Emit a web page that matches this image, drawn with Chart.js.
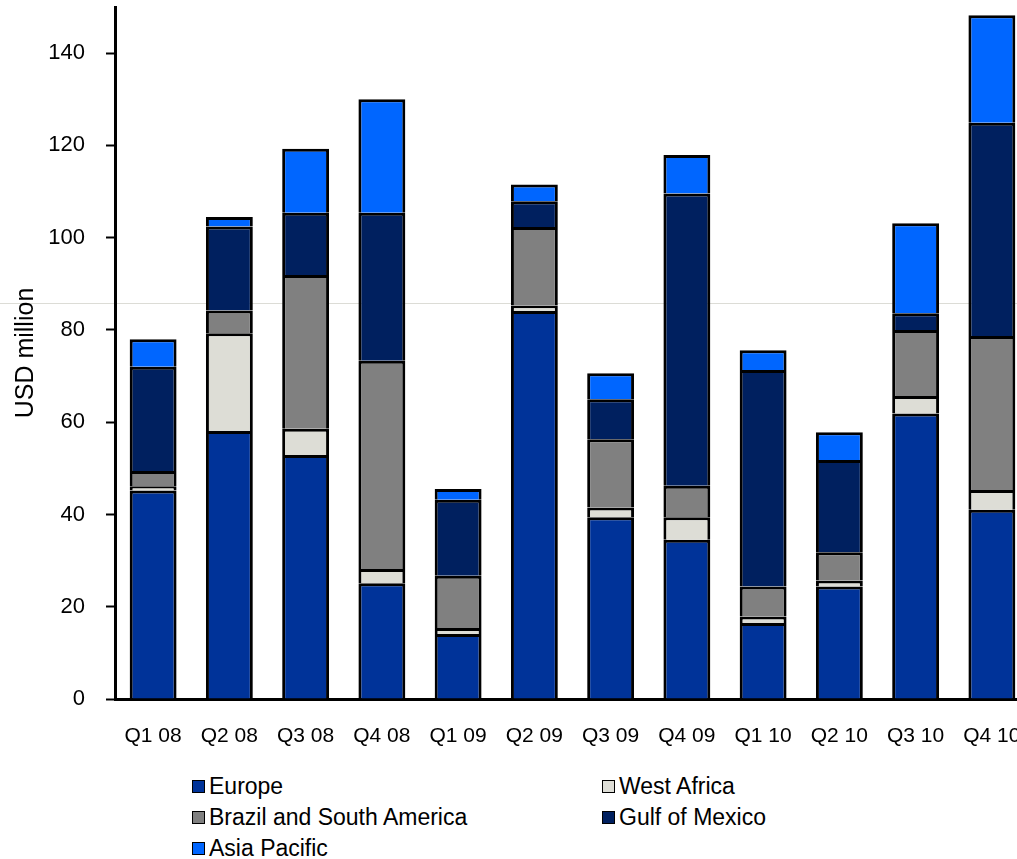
<!DOCTYPE html>
<html>
<head>
<meta charset="utf-8">
<script src="https://cdn.jsdelivr.net/npm/chart.js@4"></script>
<style>
  html, body { margin: 0; padding: 0; background: #fff; overflow: hidden; }
  #wrap { position: relative; width: 1017px; height: 859px; overflow: hidden; }
  #fold { position: absolute; left: 0; top: 303px; width: 1017px; height: 1px; background: #dcdcd6; }
  #chart { position: absolute; left: 0; top: 0; }
  #legend {
    position: absolute; left: 192px; top: 771px;
    display: grid; grid-template-columns: 410px 300px; grid-auto-rows: 31px;
    font-family: "Liberation Sans", Arial, sans-serif; font-size: 23px; color: #000;
  }
  #legend .item { display: flex; align-items: center; white-space: nowrap; }
  #legend .box { width: 11px; height: 11px; border: 1.5px solid #000; margin-right: 4px; }
</style>
</head>
<body>
<div id="wrap">
  <div id="fold"></div>
  <canvas id="chart" width="1030" height="760"></canvas>
  <div id="legend"></div>
</div>
<script>
// quarterly revenue by region, USD million
const quarters = ["Q1 08","Q2 08","Q3 08","Q4 08","Q1 09","Q2 09","Q3 09","Q4 09","Q1 10","Q2 10","Q3 10","Q4 10"];
const europe     = [45.2, 58.1, 52.9, 25.1, 14.1, 84.1, 39.4, 34.5, 16.5, 24.4, 61.9, 41.0];
const westAfrica = [0.9, 21.2, 5.7, 3.1, 1.3, 1.2, 2.1, 4.9, 1.4, 1.3, 3.8, 4.3];
const brazil     = [3.3, 4.9, 33.3, 45.1, 11.3, 17.0, 14.8, 6.8, 6.5, 6.1, 14.3, 33.4];
const gulf       = [22.6, 18.2, 13.5, 32.1, 16.5, 5.6, 8.7, 63.4, 46.9, 20.0, 3.6, 46.2];
const asia       = [6.0, 2.1, 13.9, 24.6, 2.3, 3.6, 5.6, 8.3, 4.3, 6.0, 19.5, 23.3];
const yTicks = [0, 20, 40, 60, 80, 100, 120, 140];

const series = [
  { label: "Europe", data: europe, color: "#003399" },
  { label: "West Africa", data: westAfrica, color: "#ddddd6" },
  { label: "Brazil and South America", data: brazil, color: "#808080" },
  { label: "Gulf of Mexico", data: gulf, color: "#00205f" },
  { label: "Asia Pacific", data: asia, color: "#0066ff" }
];

const axisFont = "'Liberation Sans', Arial, sans-serif";

new Chart(document.getElementById("chart").getContext("2d"), {
  type: "bar",
  data: {
    labels: quarters,
    datasets: series.map(s => ({
      label: s.label,
      data: s.data,
      backgroundColor: s.color,
      borderColor: "#000",
      borderWidth: { top: 3, left: 3, right: 3, bottom: 0 },
      categoryPercentage: 1,
      barPercentage: 0.615
    }))
  },
  options: {
    responsive: false,
    animation: false,
    layout: { padding: { top: 7, right: 0, bottom: 0, left: 0 } },
    plugins: { legend: { display: false }, tooltip: { enabled: false } },
    scales: {
      x: {
        stacked: true,
        grid: { display: false },
        border: { display: true, color: "#000", width: 3 },
        ticks: {
          color: "#000", padding: 17, maxRotation: 0, autoSkip: false,
          font: { family: axisFont, size: 21 }
        },
        afterFit: (s) => { s.height = 61; s.paddingLeft = 0; s.paddingRight = 0; }
      },
      y: {
        stacked: true,
        min: 0, max: 150,
        afterBuildTicks: (s) => { s.ticks = yTicks.map(v => ({ value: v })); },
        grid: { display: true, drawOnChartArea: false, drawTicks: true, tickLength: 9, tickWidth: 2, tickColor: "#000" },
        border: { display: true, color: "#000", width: 3 },
        ticks: { color: "#000", padding: 21, font: { family: axisFont, size: 22 } },
        title: {
          display: true, text: "USD million", color: "#000",
          padding: { top: 11, bottom: 0 },
          font: { family: axisFont, size: 25 }
        },
        afterFit: (s) => { s.width = 115; s.paddingTop = 0; s.paddingBottom = 0; }
      }
    }
  }
});

// legend: two columns, row by row
const legend = document.getElementById("legend");
series.forEach(s => {
  legend.insertAdjacentHTML("beforeend",
    `<div class="item"><span class="box" style="background:${s.color}"></span>${s.label}</div>`);
});
</script>
</body>
</html>
